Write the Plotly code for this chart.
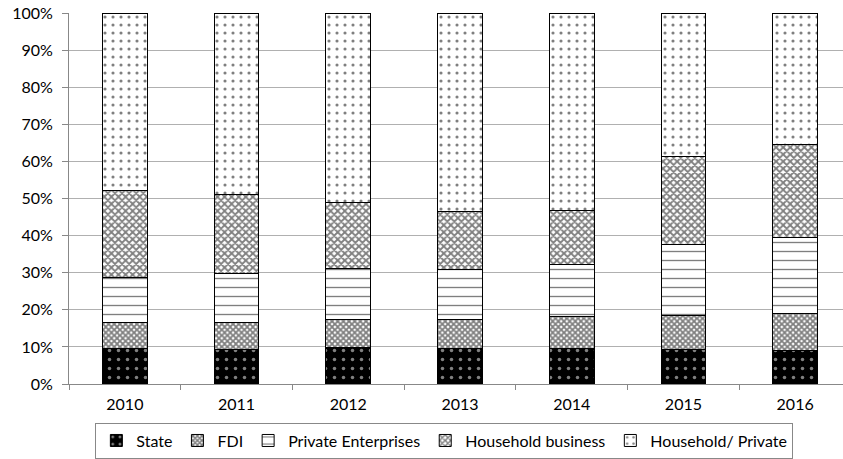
import plotly.graph_objects as go

years = ["2010", "2011", "2012", "2013", "2014", "2015", "2016"]
state = [9.5, 9.3, 9.9, 9.7, 9.7, 9.3, 9.0]
fdi = [7.0, 7.3, 7.4, 7.6, 8.5, 9.1, 9.9]
private_ent = [12.1, 13.3, 13.9, 13.5, 14.1, 19.1, 20.6]
household_bus = [23.5, 21.1, 17.6, 15.6, 14.4, 23.8, 25.0]
household_priv = [47.9, 49.0, 51.2, 53.6, 53.3, 38.7, 35.5]

series = [
    ("State", state, dict(shape=".", bgcolor="black", fgcolor="white", size=9, solidity=0.12)),
    ("FDI", fdi, dict(shape="x", bgcolor="white", fgcolor="black", size=4, solidity=0.7)),
    ("Private Enterprises", private_ent, dict(shape="-", bgcolor="white", fgcolor="black", size=9, solidity=0.15)),
    ("Household business", household_bus, dict(shape="x", bgcolor="white", fgcolor="black", size=5, solidity=0.6)),
    ("Household/ Private", household_priv, dict(shape=".", bgcolor="white", fgcolor="black", size=8, solidity=0.12)),
]

fig = go.Figure()
for name, vals, pat in series:
    fig.add_trace(go.Bar(
        x=years, y=[v / 100 for v in vals], name=name,
        marker=dict(color="white", pattern=pat, line=dict(color="black", width=1)),
    ))

# the reference image is cropped on the right: the plot area runs past the window edge
fig.update_layout(
    barmode="stack",
    bargap=0.6,
    width=851, height=459,
    margin=dict(l=69, r=0, t=13, b=75, autoexpand=False),
    paper_bgcolor="white", plot_bgcolor="white",
    font=dict(family="Lato, Open Sans, sans-serif", size=16, color="black"),
    legend=dict(orientation="h", x=0.48, xanchor="center", y=-0.104, yanchor="top",
                bordercolor="#888888", borderwidth=1, font=dict(size=16),
                traceorder="normal", itemwidth=30),
    xaxis=dict(showline=True, linecolor="#888888", ticks="outside", tickson="boundaries",
               tickcolor="#888888", ticklen=5, showgrid=False, automargin=False,
               ticklabelstandoff=6),
    yaxis=dict(range=[0, 1], tickformat=".0%", dtick=0.1, showline=True, linecolor="#888888",
               gridcolor="#b0b0b0", ticks="outside", tickcolor="#888888", ticklen=6,
               zeroline=False, automargin=False, ticklabelstandoff=6),
)

fig.write_html("out.html", config={"displayModeBar": False},
               post_script="document.body.style.margin='0';document.body.style.overflow='hidden';")
